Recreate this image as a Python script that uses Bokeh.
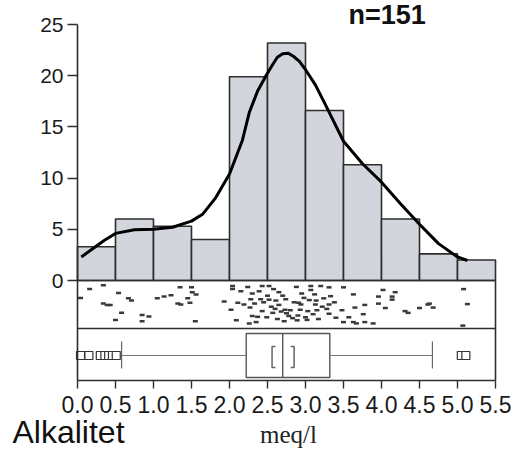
from bokeh.plotting import figure
from bokeh.models import Range1d, FixedTicker, Label
from bokeh.embed import file_html
from bokeh.resources import INLINE

# ---------------- data ----------------
bin_left = [0.0, 0.5, 1.0, 1.5, 2.0, 2.5, 3.0, 3.5, 4.0, 4.5, 5.0]
bin_right = [0.5, 1.0, 1.5, 2.0, 2.5, 3.0, 3.5, 4.0, 4.5, 5.0, 5.5]
hist_pct = [3.3, 6.0, 5.3, 4.0, 19.9, 23.2, 16.6, 11.3, 6.0, 2.6, 2.0]

dens_x = [0.05, 0.2, 0.35, 0.5, 0.75, 1.0, 1.25, 1.5, 1.65, 1.82, 2.0, 2.17,
          2.26, 2.37, 2.48, 2.56, 2.63, 2.70, 2.77, 2.84, 2.92, 2.99, 3.13,
          3.26, 3.5, 3.75, 4.0, 4.25, 4.5, 4.75, 5.0, 5.13]
dens_y = [2.3, 3.1, 3.9, 4.6, 4.95, 5.0, 5.2, 5.8, 6.5, 8.1, 10.4, 13.7,
          16.4, 18.5, 20.0, 21.0, 21.8, 22.15, 22.2, 21.9, 21.4, 20.7, 19.1,
          17.2, 13.6, 11.4, 9.6, 7.5, 5.5, 3.6, 2.3, 1.95]

strip_x = [0.34, 0.16, 0.04, 0.54, 0.67, 0.71, 0.34, 0.39, 0.58, 0.50,
           0.85, 0.94, 0.85, 1.05, 1.14, 1.23, 1.35, 1.32, 1.36, 1.50,
           1.51, 1.56, 1.45, 1.48, 1.55, 1.93, 2.02, 2.04, 2.04, 2.09,
           2.11, 2.24, 2.30, 2.39, 2.43, 2.52, 2.41, 2.52, 2.61, 2.65,
           2.28, 2.19, 2.27, 2.33, 2.43, 2.30, 2.37, 2.49, 2.57, 2.65,
           2.73, 2.63, 2.26, 3.07, 3.20, 3.31, 3.50, 3.07, 3.12, 3.33,
           3.63, 4.02, 3.96, 3.14, 3.24, 2.91, 2.94, 3.31, 3.13, 3.96,
           2.74, 2.80, 2.93, 3.03, 3.15, 3.28, 3.48, 3.65, 3.78, 4.05,
           2.78, 2.83, 3.00, 3.02, 3.31, 3.17, 2.72, 2.89, 3.50, 3.63,
           3.67, 3.78, 3.89, 3.57, 3.76, 4.18, 4.14, 4.14, 4.31, 4.35,
           4.50, 4.61, 4.63, 4.68, 5.08, 5.13, 5.07, 2.55, 2.70, 2.85,
           2.60, 2.95, 3.05, 2.45, 2.75, 2.15, 3.40, 2.35, 2.90, 3.22,
           2.58, 2.88, 3.38, 0.43, 2.68, 2.98, 2.50, 3.10]
strip_jit = [0.06, 0.15, 0.35, 0.24, 0.36, 0.41, 0.48, 0.51, 0.69, 0.85,
             0.74, 0.77, 0.88, 0.36, 0.32, 0.29, 0.11, 0.48, 0.50, 0.11,
             0.22, 0.27, 0.36, 0.46, 0.88, 0.43, 0.62, 0.08, 0.15, 0.86,
             0.46, 0.10, 0.25, 0.20, 0.08, 0.08, 0.38, 0.39, 0.41, 0.22,
             0.38, 0.50, 0.57, 0.48, 0.65, 0.76, 0.78, 0.79, 0.69, 0.51,
             0.62, 0.83, 0.93, 0.08, 0.08, 0.11, 0.11, 0.17, 0.27, 0.31,
             0.27, 0.17, 0.32, 0.41, 0.36, 0.46, 0.50, 0.50, 0.50, 0.48,
             0.38, 0.63, 0.62, 0.65, 0.63, 0.60, 0.63, 0.57, 0.51, 0.58,
             0.76, 0.81, 0.79, 0.85, 0.71, 0.83, 0.88, 0.86, 0.90, 0.90,
             0.93, 0.90, 0.93, 0.79, 0.72, 0.22, 0.32, 0.39, 0.65, 0.69,
             0.58, 0.50, 0.48, 0.57, 0.15, 0.49, 0.98, 0.55, 0.30, 0.45,
             0.60, 0.25, 0.40, 0.45, 0.70, 0.20, 0.80, 0.90, 0.75, 0.55,
             0.15, 0.10, 0.45, 0.51, 0.66, 0.35, 0.30, 0.72]

box_q1 = 2.22
box_median = 2.70
box_q3 = 3.32
notch_lo = 2.56
notch_hi = 2.85
whisk_lo = 0.58
whisk_hi = 4.67
outliers = [0.04, 0.15, 0.30, 0.36, 0.41, 0.46, 0.51, 5.05, 5.11]

y_ticks = [0, 5, 10, 15, 20, 25]
x_ticks = [0.0, 0.5, 1.0, 1.5, 2.0, 2.5, 3.0, 3.5, 4.0, 4.5, 5.0, 5.5]
x_tick_labels = ["0.0", "0.5", "1.0", "1.5", "2.0", "2.5", "3.0", "3.5",
                 "4.0", "4.5", "5.0", "5.5"]
n_text = "n=151"
var_text = "Alkalitet"
unit_text = "meq/l"

# ---------------- layout (pixels) ----------------
W, H = 513, 449
X0, Y0 = 77, 280          # canvas position of data (0, 0)
PXX, PXY = 76.0, 10.24    # pixels per data unit
STRIP_PX, BOX_PX = 48, 52

def dx(px):               # canvas x -> data x
    return (px - X0) / PXX

def dy(py):               # canvas y -> data y
    return (Y0 - py) / PXY

strip_bot = dy(Y0 + STRIP_PX)
panel_bot = dy(Y0 + STRIP_PX + BOX_PX)

p = figure(width=W, height=H, x_range=Range1d(dx(0), dx(W)),
           y_range=Range1d(dy(H), dy(0)), output_backend="svg",
           toolbar_location=None, min_border=0, min_border_left=0,
           min_border_right=0, min_border_top=0, min_border_bottom=0)
p.outline_line_color = None
p.xgrid.visible = False
p.ygrid.visible = False
p.background_fill_color = "white"
p.border_fill_color = "white"

dark = "#2e2e2e"

# histogram
p.quad(left=bin_left, right=bin_right, bottom=0, top=hist_pct,
       fill_color="#d2d5db", line_color=dark, line_width=1.6)

# density curve
p.line(dens_x, dens_y, line_color="black", line_width=3, line_join="round")

# panel frame lines
p.segment(x0=[0, 0, 5.5], x1=[5.5, 5.5, 5.5], y0=[0, strip_bot, 0],
          y1=[0, strip_bot, panel_bot], line_color=dark, line_width=1.6)

# strip (jittered dot plot)
strip_y = [dy(Y0 + 2 + j * (STRIP_PX - 4)) for j in strip_jit]
p.rect(x=strip_x, y=strip_y, width=5, height=2.5, width_units="screen",
       height_units="screen", fill_color="#3a3a3a", line_color=None)

# box plot
b_top, b_bot, b_mid = dy(333), dy(377), dy(355)
p.quad(left=[box_q1], right=[box_q3], top=[b_top], bottom=[b_bot],
       fill_color="white", line_color="#555555", line_width=1.4)
p.segment(x0=[box_median], x1=[box_median], y0=[b_top], y1=[b_bot],
          line_color="#555555", line_width=1.4)
p.segment(x0=[whisk_lo, box_q3], x1=[box_q1, whisk_hi], y0=[b_mid, b_mid],
          y1=[b_mid, b_mid], line_color="#777777", line_width=1.1)
c_top, c_bot = dy(341), dy(368)
p.segment(x0=[whisk_lo, whisk_hi], x1=[whisk_lo, whisk_hi], y0=[c_top, c_top],
          y1=[c_bot, c_bot], line_color="#666666", line_width=1.2)
n_top, n_bot = dy(346), dy(367)
ser = 0.045
p.multi_line(xs=[[notch_lo + ser, notch_lo, notch_lo, notch_lo + ser],
                 [notch_hi - ser, notch_hi, notch_hi, notch_hi - ser]],
             ys=[[n_top, n_top, n_bot, n_bot], [n_top, n_top, n_bot, n_bot]],
             line_color="#666666", line_width=1.5)
p.scatter(x=outliers, y=[b_mid] * len(outliers), marker="square", size=8,
          fill_color="white", line_color="#333333", line_width=1.2)

# axes (drawn inside the canvas at fixed data locations)
p.yaxis.fixed_location = 0
p.yaxis.bounds = (panel_bot, 25)
p.yaxis.ticker = FixedTicker(ticks=y_ticks)
p.yaxis.minor_tick_line_color = None
p.yaxis.major_tick_out = 10
p.yaxis.major_tick_in = 0
p.yaxis.axis_line_width = 1.6
p.yaxis.axis_line_color = dark
p.yaxis.major_tick_line_color = dark
p.yaxis.major_tick_line_width = 1.4
p.yaxis.major_label_text_font = "Liberation Sans"
p.yaxis.major_label_text_font_size = "21px"
p.yaxis.major_label_text_color = "#1a1a1a"
p.yaxis.major_label_standoff = 4

p.xaxis.fixed_location = panel_bot
p.xaxis.bounds = (0, 5.5)
p.xaxis.ticker = FixedTicker(ticks=x_ticks)
p.xaxis.major_label_overrides = dict(zip(x_ticks, x_tick_labels))
p.xaxis.minor_tick_line_color = None
p.xaxis.major_tick_out = 8
p.xaxis.major_tick_in = 0
p.xaxis.axis_line_width = 1.6
p.xaxis.axis_line_color = dark
p.xaxis.major_tick_line_color = dark
p.xaxis.major_tick_line_width = 1.4
p.xaxis.major_label_text_font = "Liberation Sans"
p.xaxis.major_label_text_font_size = "23px"
p.xaxis.major_label_text_color = "#1a1a1a"
p.xaxis.major_label_standoff = 7

# texts (anchored at their vertical middle)
p.add_layout(Label(x=dx(348), y=dy(14.6), text=n_text,
                   text_font="Liberation Sans", text_font_style="bold",
                   text_font_size="27px", text_baseline="middle",
                   text_color="#111111"))
p.add_layout(Label(x=dx(12), y=dy(431), text=var_text,
                   text_font="Liberation Sans", text_font_size="32px",
                   text_baseline="middle", text_color="#111111"))
p.add_layout(Label(x=dx(288), y=dy(433.6), text=unit_text,
                   text_font="Liberation Serif", text_font_size="25px",
                   text_align="center", text_baseline="middle",
                   text_color="#222222"))

open("out.html", "w").write(file_html(p, INLINE))
